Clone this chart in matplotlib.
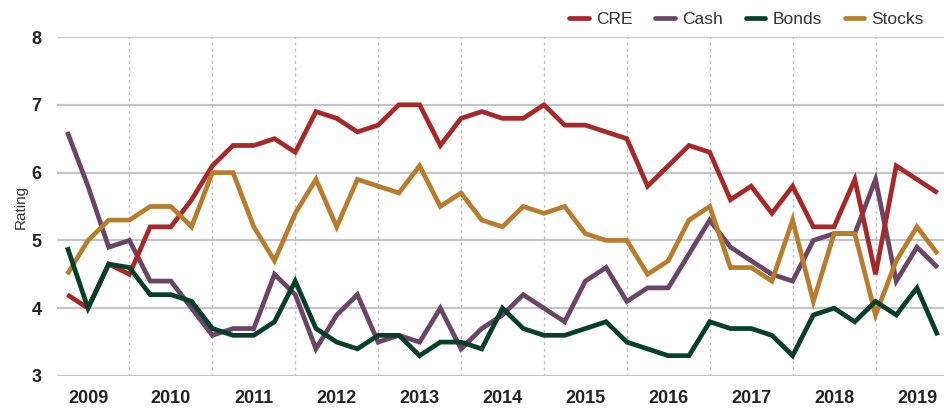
import numpy as np
import matplotlib
matplotlib.use('Agg')
import matplotlib.pyplot as plt

plt.rcParams['font.family'] = ['Liberation Sans Narrow', 'Liberation Sans', 'DejaVu Sans']

# quarterly ratings, 2009 Q2 .. 2019 Q4
cre = [4.2, 4.0, 4.65, 4.5, 5.2, 5.2, 5.6, 6.1, 6.4, 6.4, 6.5, 6.3, 6.9, 6.8,
       6.6, 6.7, 7.0, 7.0, 6.4, 6.8, 6.9, 6.8, 6.8, 7.0, 6.7, 6.7, 6.6, 6.5,
       5.8, 6.1, 6.4, 6.3, 5.6, 5.8, 5.4, 5.8, 5.2, 5.2, 5.9, 4.5, 6.1, 5.9, 5.7]
cash = [6.6, 5.8, 4.9, 5.0, 4.4, 4.4, 4.0, 3.6, 3.7, 3.7, 4.5, 4.2, 3.4, 3.9,
        4.2, 3.5, 3.6, 3.5, 4.0, 3.4, 3.7, 3.9, 4.2, 4.0, 3.8, 4.4, 4.6, 4.1,
        4.3, 4.3, 4.8, 5.3, 4.9, 4.7, 4.5, 4.4, 5.0, 5.1, 5.1, 5.9, 4.4, 4.9, 4.6]
bonds = [4.9, 4.0, 4.65, 4.6, 4.2, 4.2, 4.1, 3.7, 3.6, 3.6, 3.8, 4.4, 3.7, 3.5,
         3.4, 3.6, 3.6, 3.3, 3.5, 3.5, 3.4, 4.0, 3.7, 3.6, 3.6, 3.7, 3.8, 3.5,
         3.4, 3.3, 3.3, 3.8, 3.7, 3.7, 3.6, 3.3, 3.9, 4.0, 3.8, 4.1, 3.9, 4.3, 3.6]
stocks = [4.5, 5.0, 5.3, 5.3, 5.5, 5.5, 5.2, 6.0, 6.0, 5.2, 4.7, 5.4, 5.9, 5.2,
          5.9, 5.8, 5.7, 6.1, 5.5, 5.7, 5.3, 5.2, 5.5, 5.4, 5.5, 5.1, 5.0, 5.0,
          4.5, 4.7, 5.3, 5.5, 4.6, 4.6, 4.4, 5.3, 4.1, 5.1, 5.1, 3.9, 4.7, 5.2, 4.8]
years = list(range(2009, 2020))
yticks = [3, 4, 5, 6, 7, 8]

x = 2009.25 + 0.25 * np.arange(len(cre))

fig = plt.figure(figsize=(9.44, 4.08), dpi=100)
ax = fig.add_axes([57 / 944, 32 / 408, 887 / 944, 339 / 408])

series = [('CRE', cre, '#A6292A', 3),
          ('Cash', cash, '#6A4566', 2),
          ('Bonds', bonds, '#083F29', 5),
          ('Stocks', stocks, '#B87C2D', 4)]
for name, vals, col, z in series:
    ax.plot(x, vals, color=col, lw=3.4, label=name, zorder=z,
            solid_joinstyle='miter', solid_capstyle='butt', clip_on=False)

ax.set_xlim(2009.126, 2019.826)
ax.set_ylim(3, 8)
ax.set_yticks(yticks)
ax.set_yticklabels([str(t) for t in yticks], fontsize=13, fontweight='bold',
                   color='#222222')
ax.tick_params(axis='y', length=0, pad=11)
for t in yticks:
    ax.axhline(t, color='#C4C4CA', lw=1.6, zorder=1)
for yr in years[1:]:
    ax.axvline(yr, color='#BDBDC4', lw=1.0, ls=(0, (2, 2.5)), zorder=1)

ax.set_xticks([yr + 0.5 for yr in years])
ax.set_xticklabels([str(yr) for yr in years], fontsize=13, fontweight='bold',
                   color='#222222')
ax.tick_params(axis='x', length=0, pad=10)

ax.set_ylabel('Rating', fontsize=11, color='#333333', labelpad=3)
for s in ax.spines.values():
    s.set_visible(False)

leg = ax.legend(loc='lower right', bbox_to_anchor=(0.988, 1.0), ncol=4,
                frameon=False, fontsize=12.5, handlelength=1.1,
                handletextpad=0.45, columnspacing=1.3, borderaxespad=0.15)
for h in leg.legend_handles:
    h.set_solid_capstyle('round')
    h.set_linewidth(3.4)
for t in leg.get_texts():
    t.set_color('#333333')

plt.savefig('out.png', dpi=100)
